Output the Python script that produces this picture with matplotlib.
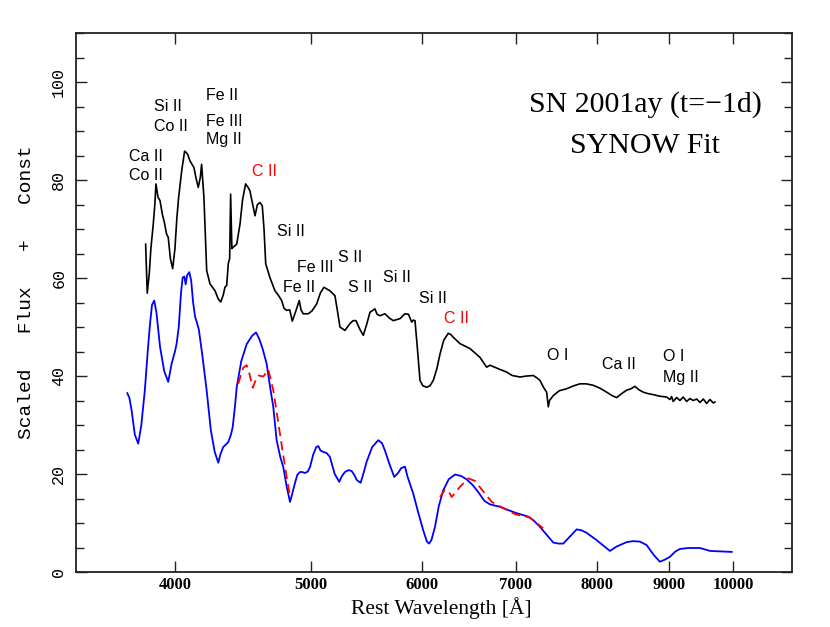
import matplotlib
matplotlib.use("Agg")
import matplotlib.pyplot as plt
from matplotlib.ticker import FixedLocator, NullLocator, MultipleLocator, FixedFormatter

# observed spectrum (black), wavelength in Angstrom, scaled flux + const
obs_wave = [3812, 3822, 3835, 3845, 3860, 3870, 3877, 3890, 3903, 3918, 3930, 3945,
            3956, 3970, 3985, 4000, 4012, 4024, 4045, 4064, 4075, 4085, 4100, 4127,
            4140, 4156, 4170, 4179, 4195, 4214, 4237, 4272, 4295, 4312, 4330, 4342,
            4355, 4366, 4376, 4383, 4392, 4402, 4427, 4451, 4470, 4492, 4510, 4524,
            4545, 4562, 4580, 4600, 4617, 4630, 4643, 4675, 4714, 4740, 4766, 4785,
            4805, 4830, 4850, 4875, 4906, 4920, 4938, 4979, 5010, 5048, 5080, 5109,
            5159, 5202, 5222, 5245, 5288, 5332, 5360, 5385, 5420, 5450, 5480, 5510,
            5555, 5575, 5601, 5647, 5690, 5725, 5788, 5836, 5870, 5901, 5915, 5933,
            5955, 5982, 6010, 6048, 6080, 6114, 6150, 6182, 6220, 6266, 6290, 6318,
            6388, 6494, 6601, 6674, 6711, 6800, 6897, 6960, 7050, 7130, 7205, 7250,
            7285, 7330, 7365, 7385, 7400, 7446, 7520, 7611, 7700, 7779, 7860, 7951,
            8040, 8128, 8200, 8262, 8330, 8399, 8460, 8514, 8570, 8631, 8700, 8774,
            8860, 8969, 9018, 9043, 9067, 9118, 9167, 9217, 9269, 9319, 9370, 9423,
            9474, 9526, 9579, 9631, 9683, 9710]
obs_flux = [66.9, 56.9, 61.0, 66.0, 71.0, 75.0, 79.2, 76.5, 75.8, 73.0, 71.5, 69.0,
            68.3, 64.0, 61.9, 66.0, 72.0, 76.4, 82.0, 85.9, 85.6, 85.2, 83.9, 82.5,
            80.5, 78.5, 80.5, 83.2, 76.4, 61.5, 58.8, 57.4, 55.7, 55.1, 56.5, 58.1,
            58.5, 62.9, 64.0, 77.1, 66.0, 66.3, 66.9, 71.0, 76.0, 79.2, 78.5, 77.8,
            75.0, 72.7, 75.0, 75.4, 74.7, 70.0, 62.9, 60.1, 57.4, 56.5, 55.4, 53.8,
            53.4, 53.5, 51.2, 53.0, 55.4, 53.5, 52.7, 52.7, 53.3, 54.7, 57.0, 58.1,
            57.4, 56.4, 53.5, 50.0, 49.3, 50.7, 51.3, 51.3, 49.5, 48.3, 50.5, 53.0,
            53.7, 52.6, 52.3, 52.7, 51.8, 51.3, 51.7, 52.7, 52.6, 51.0, 51.4, 51.3,
            46.0, 39.1, 38.0, 37.7, 38.0, 39.1, 41.5, 44.5, 47.3, 48.7, 48.5, 47.9,
            46.6, 45.6, 43.8, 41.8, 42.2, 41.5, 40.8, 40.1, 39.8, 40.0, 40.1, 39.6,
            39.1, 37.6, 36.7, 33.7, 35.0, 36.0, 37.0, 37.4, 38.0, 38.4, 38.4, 38.1,
            37.5, 36.7, 36.0, 35.6, 36.4, 37.1, 37.4, 37.9, 37.2, 36.7, 36.4, 36.2,
            35.9, 35.7, 35.2, 35.8, 34.8, 35.6, 35.0, 35.7, 34.8, 35.4, 35.0, 35.3,
            34.6, 35.3, 34.4, 35.2, 34.5, 34.7]

# SYNOW fit (blue)
fit_wave = [3699, 3712, 3725, 3745, 3766, 3785, 3807, 3825, 3839, 3852, 3866, 3880,
            3903, 3930, 3956, 3978, 4000, 4011, 4025, 4040, 4051, 4062, 4071, 4080,
            4095, 4108, 4121, 4135, 4143, 4160, 4185, 4214, 4243, 4270, 4295, 4310,
            4330, 4366, 4385, 4398, 4415, 4427, 4460, 4500, 4540, 4570, 4595, 4620,
            4650, 4675, 4701, 4727, 4755, 4779, 4805, 4832, 4850, 4871, 4890, 4911,
            4930, 4952, 4975, 4993, 5020, 5045, 5062, 5080, 5103, 5130, 5159, 5200,
            5239, 5260, 5288, 5320, 5347, 5370, 5391, 5426, 5450, 5480, 5530, 5586,
            5620, 5647, 5690, 5734, 5770, 5800, 5836, 5860, 5916, 5960, 6014, 6050,
            6071, 6095, 6131, 6170, 6215, 6270, 6336, 6400, 6458, 6520, 6583, 6650,
            6711, 6822, 6920, 7012, 7146, 7210, 7285, 7370, 7446, 7510, 7569, 7650,
            7737, 7800, 7865, 7995, 8100, 8172, 8262, 8399, 8490, 8584, 8679, 8780,
            8871, 8940, 9018, 9100, 9167, 9300, 9474, 9550, 9631, 9800, 9981]
fit_flux = [36.5, 35.5, 33.0, 28.0, 26.2, 30.0, 37.1, 45.0, 50.5, 54.5, 55.4, 53.0,
            46.0, 41.0, 38.8, 42.5, 45.0, 46.6, 50.0, 57.0, 60.1, 60.3, 58.7, 60.5,
            61.2, 59.5, 55.0, 52.0, 51.3, 49.5, 44.0, 37.0, 28.9, 24.5, 22.3, 24.0,
            25.5, 26.5, 28.0, 29.6, 34.0, 37.7, 43.0, 46.5, 48.2, 48.9, 47.5, 45.5,
            42.5, 38.0, 33.7, 26.9, 23.5, 21.4, 17.5, 14.3, 16.0, 18.1, 19.8, 20.4,
            20.4, 20.2, 20.5, 21.4, 24.0, 25.5, 25.7, 24.8, 24.5, 24.3, 23.5, 20.0,
            18.4, 19.5, 20.4, 20.8, 20.6, 19.8, 18.8, 18.2, 20.0, 22.5, 25.5, 26.9,
            26.3, 24.8, 22.0, 19.4, 20.2, 21.2, 21.5, 19.5, 16.0, 12.5, 8.5, 6.2,
            5.8, 6.5, 9.2, 13.5, 16.7, 18.9, 19.9, 19.6, 18.9, 17.8, 16.3, 14.5,
            13.8, 13.3, 12.6, 12.0, 11.3, 10.5, 9.2, 7.5, 6.0, 5.8, 5.8, 7.2,
            8.7, 8.5, 8.0, 6.5, 5.2, 4.3, 5.2, 6.1, 6.3, 6.2, 5.5, 3.5,
            2.1, 2.5, 3.1, 4.2, 4.7, 4.9, 4.9, 4.6, 4.3, 4.2, 4.1]

# fit without C II (red dashed)
noc_wave1 = [4438, 4475, 4500, 4520, 4545, 4565, 4587, 4625, 4663, 4701, 4753, 4793, 4832]
noc_flux1 = [38.4, 41.7, 42.2, 40.5, 37.6, 39.0, 40.1, 39.9, 41.3, 37.1, 28.2, 21.4, 15.3]
noc_wave2 = [6182, 6232, 6270, 6301, 6340, 6388, 6476, 6547, 6638, 6730, 6841, 6992, 7166, 7324]
noc_flux2 = [15.3, 16.8, 16.5, 15.3, 16.2, 17.4, 19.1, 18.6, 16.4, 14.3, 13.2, 11.8, 11.1, 8.9]

# line identifications: text, wavelength, flux (baseline), colour
ion_text = ["Ca II", "Co II", "Si II", "Co II", "Fe II", "Fe III", "Mg II", "C II",
            "Si II", "Fe III", "S II", "Fe II", "S II", "Si II", "Si II", "C II",
            "O I", "Ca II", "O I", "Mg II"]
ion_wave = [3709, 3709, 3866, 3866, 4207, 4207, 4207, 4537,
            4727, 4890, 5225, 4774, 5317, 5631, 5972, 6225,
            7365, 8062, 8911, 8911]
ion_flux = [83.8, 80.0, 94.1, 90.0, 96.3, 91.0, 87.4, 80.9,
            68.5, 61.2, 63.2, 57.1, 57.1, 59.1, 54.9, 50.8,
            43.2, 41.5, 43.0, 38.8]
ion_color = ["k", "k", "k", "k", "k", "k", "k", "red",
             "k", "k", "k", "k", "k", "k", "k", "red",
             "k", "k", "k", "k"]

xticks = [4000, 5000, 6000, 7000, 8000, 9000, 10000]

fig = plt.figure(figsize=(8.3, 6.27), dpi=100)
ax = fig.add_axes([76 / 830, 55 / 627, 716 / 830, 539 / 627])

ax.plot(obs_wave, obs_flux, color="black", lw=1.2)
ax.plot(fit_wave, fit_flux, color="blue", lw=1.3)
ax.plot(noc_wave1, noc_flux1, color="red", lw=1.3, ls=(0, (5, 3)))
ax.plot(noc_wave2, noc_flux2, color="red", lw=1.3, ls=(0, (5, 3)))

for t, w, f, c in zip(ion_text, ion_wave, ion_flux, ion_color):
    ax.text(w, f, t, color=c, fontsize=11.5, family="Liberation Sans",
            ha="left", va="baseline")

ax.text(0.795, 0.868, "SN 2001ay (t=\u22121d)", transform=ax.transAxes,
        fontsize=21.5, family="Liberation Serif", ha="center", va="center")
ax.text(0.795, 0.790, "SYNOW Fit", transform=ax.transAxes,
        fontsize=21.5, family="Liberation Serif", ha="center", va="center")

ax.set_xscale("log")
ax.set_xlim(3400, 11020)
ax.set_ylim(0, 110)
ax.xaxis.set_major_locator(FixedLocator(xticks))
ax.xaxis.set_major_formatter(FixedFormatter([str(v) for v in xticks]))
ax.xaxis.set_minor_locator(NullLocator())
ax.yaxis.set_major_locator(MultipleLocator(20))
ax.yaxis.set_minor_locator(MultipleLocator(5))

ax.tick_params(axis="both", which="both", direction="in", top=True, right=True,
               width=1.0, color="#222222")
ax.tick_params(axis="both", which="major", length=8)
ax.tick_params(axis="both", which="minor", length=6)
ax.tick_params(axis="x", pad=3.5)
ax.tick_params(axis="y", pad=7)
for lab in ax.get_xticklabels():
    lab.set_family("Liberation Serif")
    lab.set_fontweight("bold")
    lab.set_fontsize(12)
for lab in ax.get_yticklabels():
    lab.set_family("Liberation Mono")
    lab.set_fontsize(12)
    lab.set_rotation(90)
    lab.set_va("center")

for sp in ax.spines.values():
    sp.set_linewidth(1.3)
    sp.set_color("#222222")

fig.text(441 / 830, 1 - 614 / 627, "Rest Wavelength [\u00c5]", fontsize=15.5,
         family="Liberation Serif", ha="center", va="baseline")
fig.text(27 / 830, 1 - 292 / 627, "Scaled   Flux   +   Const", fontsize=14,
         family="Liberation Mono", rotation=90, ha="center", va="center")

fig.savefig("out.png", dpi=100)
